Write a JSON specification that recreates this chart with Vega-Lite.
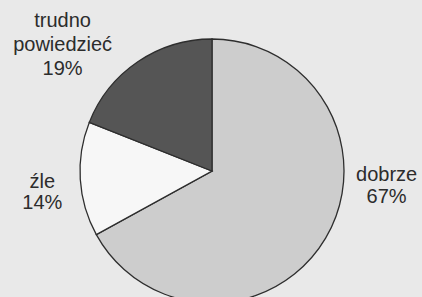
{
  "$schema": "https://vega.github.io/schema/vega-lite/v6.json",
  "width": 420,
  "height": 252,
  "autosize": {"type": "none"},
  "padding": {"left": 2, "top": 45, "right": 0, "bottom": 0},
  "background": "#e9e9e9",
  "config": {"view": {"stroke": null}, "text": {"font": "Liberation Sans"}},
  "data": {
    "values": [
      {"kategoria": "dobrze", "procent": 67, "o": 1, "etykieta": ["dobrze", "67%"]},
      {"kategoria": "źle", "procent": 14, "o": 2, "etykieta": ["źle", "14%"]},
      {"kategoria": "trudno powiedzieć", "procent": 19, "o": 3, "etykieta": ["trudno", "powiedzieć", "19%"]}
    ]
  },
  "encoding": {
    "theta": {"field": "procent", "type": "quantitative", "stack": true},
    "order": {"field": "o", "type": "quantitative"}
  },
  "layer": [
    {
      "mark": {"type": "arc", "outerRadius": 132, "stroke": "#2e2e2e", "strokeWidth": 1.3},
      "encoding": {
        "color": {
          "field": "kategoria",
          "type": "nominal",
          "scale": {"domain": ["dobrze", "źle", "trudno powiedzieć"], "range": ["#cdcdcd", "#f7f7f7", "#555555"]},
          "legend": null
        }
      }
    },
    {
      "mark": {"type": "text", "radius": 175, "fontSize": 20, "lineHeight": 22, "color": "#2c2c2c", "align": "center", "baseline": "middle", "dx": 24, "dy": -85},
      "encoding": {
        "text": {"condition": {"test": "datum.kategoria === 'dobrze'", "field": "etykieta"}, "value": ""}
      }
    },
    {
      "mark": {"type": "text", "radius": 175, "fontSize": 20, "lineHeight": 21, "color": "#2c2c2c", "align": "center", "baseline": "middle", "dx": 5, "dy": 0},
      "encoding": {
        "text": {"condition": {"test": "datum.kategoria === 'źle'", "field": "etykieta"}, "value": ""}
      }
    },
    {
      "mark": {"type": "text", "radius": 175, "fontSize": 20, "lineHeight": 24, "color": "#2c2c2c", "align": "center", "baseline": "middle", "dx": -51, "dy": -5},
      "encoding": {
        "text": {"condition": {"test": "datum.kategoria === 'trudno powiedzieć'", "field": "etykieta"}, "value": ""}
      }
    }
  ]
}
